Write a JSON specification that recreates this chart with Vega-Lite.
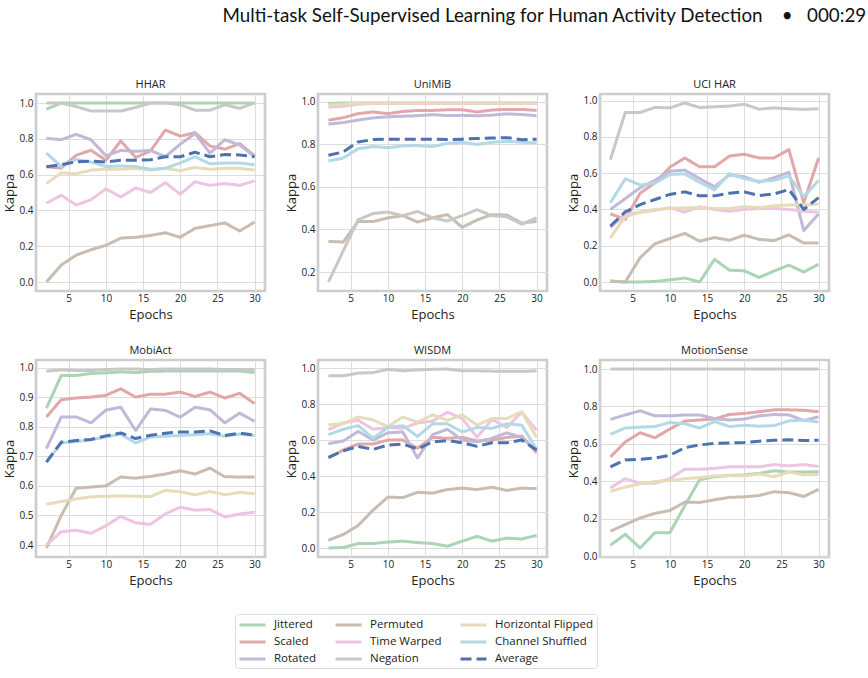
{
  "$schema": "https://vega.github.io/schema/vega-lite/v6.json",
  "padding": {"left": 2, "top": 6, "right": 0, "bottom": 0},
  "title": {
    "text": "Multi-task Self-Supervised Learning for Human Activity Detection\u00a0\u00a0\u00a0\u00a0•\u00a0\u00a0\u00a0000:29",
    "anchor": "start",
    "frame": "bounds",
    "font": "Lato",
    "fontSize": 18.8,
    "fontWeight": "normal",
    "color": "#111111",
    "offset": 52,
    "dx": 220
  },
  "data": {
    "values": [
      {"d":"HHAR","t":"Jittered","e":2,"k":0.965},{"d":"HHAR","t":"Jittered","e":4,"k":1},{"d":"HHAR","t":"Jittered","e":6,"k":1},{"d":"HHAR","t":"Jittered","e":8,"k":1},{"d":"HHAR","t":"Jittered","e":10,"k":1},{"d":"HHAR","t":"Jittered","e":12,"k":1},{"d":"HHAR","t":"Jittered","e":14,"k":1},{"d":"HHAR","t":"Jittered","e":16,"k":1},{"d":"HHAR","t":"Jittered","e":18,"k":1},{"d":"HHAR","t":"Jittered","e":20,"k":1},{"d":"HHAR","t":"Jittered","e":22,"k":1},{"d":"HHAR","t":"Jittered","e":24,"k":1},{"d":"HHAR","t":"Jittered","e":26,"k":1},{"d":"HHAR","t":"Jittered","e":28,"k":1},{"d":"HHAR","t":"Jittered","e":30,"k":1},
      {"d":"HHAR","t":"Scaled","e":2,"k":0.644},{"d":"HHAR","t":"Scaled","e":4,"k":0.636},{"d":"HHAR","t":"Scaled","e":6,"k":0.708},{"d":"HHAR","t":"Scaled","e":8,"k":0.736},{"d":"HHAR","t":"Scaled","e":10,"k":0.68},{"d":"HHAR","t":"Scaled","e":12,"k":0.788},{"d":"HHAR","t":"Scaled","e":14,"k":0.696},{"d":"HHAR","t":"Scaled","e":16,"k":0.732},{"d":"HHAR","t":"Scaled","e":18,"k":0.849},{"d":"HHAR","t":"Scaled","e":20,"k":0.815},{"d":"HHAR","t":"Scaled","e":22,"k":0.834},{"d":"HHAR","t":"Scaled","e":24,"k":0.76},{"d":"HHAR","t":"Scaled","e":26,"k":0.742},{"d":"HHAR","t":"Scaled","e":28,"k":0.773},{"d":"HHAR","t":"Scaled","e":30,"k":0.705},
      {"d":"HHAR","t":"Rotated","e":2,"k":0.803},{"d":"HHAR","t":"Rotated","e":4,"k":0.795},{"d":"HHAR","t":"Rotated","e":6,"k":0.825},{"d":"HHAR","t":"Rotated","e":8,"k":0.795},{"d":"HHAR","t":"Rotated","e":10,"k":0.705},{"d":"HHAR","t":"Rotated","e":12,"k":0.735},{"d":"HHAR","t":"Rotated","e":14,"k":0.73},{"d":"HHAR","t":"Rotated","e":16,"k":0.735},{"d":"HHAR","t":"Rotated","e":18,"k":0.7},{"d":"HHAR","t":"Rotated","e":20,"k":0.77},{"d":"HHAR","t":"Rotated","e":22,"k":0.83},{"d":"HHAR","t":"Rotated","e":24,"k":0.72},{"d":"HHAR","t":"Rotated","e":26,"k":0.795},{"d":"HHAR","t":"Rotated","e":28,"k":0.765},{"d":"HHAR","t":"Rotated","e":30,"k":0.7},
      {"d":"HHAR","t":"Permuted","e":2,"k":0},{"d":"HHAR","t":"Permuted","e":4,"k":0.095},{"d":"HHAR","t":"Permuted","e":6,"k":0.15},{"d":"HHAR","t":"Permuted","e":8,"k":0.18},{"d":"HHAR","t":"Permuted","e":10,"k":0.205},{"d":"HHAR","t":"Permuted","e":12,"k":0.245},{"d":"HHAR","t":"Permuted","e":14,"k":0.25},{"d":"HHAR","t":"Permuted","e":16,"k":0.26},{"d":"HHAR","t":"Permuted","e":18,"k":0.275},{"d":"HHAR","t":"Permuted","e":20,"k":0.25},{"d":"HHAR","t":"Permuted","e":22,"k":0.3},{"d":"HHAR","t":"Permuted","e":24,"k":0.315},{"d":"HHAR","t":"Permuted","e":26,"k":0.33},{"d":"HHAR","t":"Permuted","e":28,"k":0.285},{"d":"HHAR","t":"Permuted","e":30,"k":0.335},
      {"d":"HHAR","t":"Time Warped","e":2,"k":0.44},{"d":"HHAR","t":"Time Warped","e":4,"k":0.485},{"d":"HHAR","t":"Time Warped","e":6,"k":0.43},{"d":"HHAR","t":"Time Warped","e":8,"k":0.46},{"d":"HHAR","t":"Time Warped","e":10,"k":0.52},{"d":"HHAR","t":"Time Warped","e":12,"k":0.475},{"d":"HHAR","t":"Time Warped","e":14,"k":0.525},{"d":"HHAR","t":"Time Warped","e":16,"k":0.5},{"d":"HHAR","t":"Time Warped","e":18,"k":0.555},{"d":"HHAR","t":"Time Warped","e":20,"k":0.49},{"d":"HHAR","t":"Time Warped","e":22,"k":0.56},{"d":"HHAR","t":"Time Warped","e":24,"k":0.54},{"d":"HHAR","t":"Time Warped","e":26,"k":0.55},{"d":"HHAR","t":"Time Warped","e":28,"k":0.54},{"d":"HHAR","t":"Time Warped","e":30,"k":0.565},
      {"d":"HHAR","t":"Negation","e":2,"k":1},{"d":"HHAR","t":"Negation","e":4,"k":1},{"d":"HHAR","t":"Negation","e":6,"k":0.98},{"d":"HHAR","t":"Negation","e":8,"k":0.955},{"d":"HHAR","t":"Negation","e":10,"k":0.955},{"d":"HHAR","t":"Negation","e":12,"k":0.955},{"d":"HHAR","t":"Negation","e":14,"k":0.975},{"d":"HHAR","t":"Negation","e":16,"k":1},{"d":"HHAR","t":"Negation","e":18,"k":1},{"d":"HHAR","t":"Negation","e":20,"k":0.99},{"d":"HHAR","t":"Negation","e":22,"k":0.96},{"d":"HHAR","t":"Negation","e":24,"k":0.96},{"d":"HHAR","t":"Negation","e":26,"k":0.99},{"d":"HHAR","t":"Negation","e":28,"k":0.97},{"d":"HHAR","t":"Negation","e":30,"k":1},
      {"d":"HHAR","t":"Horizontal Flipped","e":2,"k":0.55},{"d":"HHAR","t":"Horizontal Flipped","e":4,"k":0.61},{"d":"HHAR","t":"Horizontal Flipped","e":6,"k":0.605},{"d":"HHAR","t":"Horizontal Flipped","e":8,"k":0.625},{"d":"HHAR","t":"Horizontal Flipped","e":10,"k":0.63},{"d":"HHAR","t":"Horizontal Flipped","e":12,"k":0.63},{"d":"HHAR","t":"Horizontal Flipped","e":14,"k":0.635},{"d":"HHAR","t":"Horizontal Flipped","e":16,"k":0.625},{"d":"HHAR","t":"Horizontal Flipped","e":18,"k":0.635},{"d":"HHAR","t":"Horizontal Flipped","e":20,"k":0.622},{"d":"HHAR","t":"Horizontal Flipped","e":22,"k":0.64},{"d":"HHAR","t":"Horizontal Flipped","e":24,"k":0.63},{"d":"HHAR","t":"Horizontal Flipped","e":26,"k":0.635},{"d":"HHAR","t":"Horizontal Flipped","e":28,"k":0.635},{"d":"HHAR","t":"Horizontal Flipped","e":30,"k":0.625},
      {"d":"HHAR","t":"Channel Shuffled","e":2,"k":0.72},{"d":"HHAR","t":"Channel Shuffled","e":4,"k":0.645},{"d":"HHAR","t":"Channel Shuffled","e":6,"k":0.685},{"d":"HHAR","t":"Channel Shuffled","e":8,"k":0.67},{"d":"HHAR","t":"Channel Shuffled","e":10,"k":0.645},{"d":"HHAR","t":"Channel Shuffled","e":12,"k":0.648},{"d":"HHAR","t":"Channel Shuffled","e":14,"k":0.645},{"d":"HHAR","t":"Channel Shuffled","e":16,"k":0.63},{"d":"HHAR","t":"Channel Shuffled","e":18,"k":0.635},{"d":"HHAR","t":"Channel Shuffled","e":20,"k":0.665},{"d":"HHAR","t":"Channel Shuffled","e":22,"k":0.7},{"d":"HHAR","t":"Channel Shuffled","e":24,"k":0.66},{"d":"HHAR","t":"Channel Shuffled","e":26,"k":0.665},{"d":"HHAR","t":"Channel Shuffled","e":28,"k":0.665},{"d":"HHAR","t":"Channel Shuffled","e":30,"k":0.655},
      {"d":"HHAR","t":"Average","e":2,"k":0.644},{"d":"HHAR","t":"Average","e":4,"k":0.655},{"d":"HHAR","t":"Average","e":6,"k":0.672},{"d":"HHAR","t":"Average","e":8,"k":0.675},{"d":"HHAR","t":"Average","e":10,"k":0.67},{"d":"HHAR","t":"Average","e":12,"k":0.68},{"d":"HHAR","t":"Average","e":14,"k":0.68},{"d":"HHAR","t":"Average","e":16,"k":0.683},{"d":"HHAR","t":"Average","e":18,"k":0.7},{"d":"HHAR","t":"Average","e":20,"k":0.7},{"d":"HHAR","t":"Average","e":22,"k":0.725},{"d":"HHAR","t":"Average","e":24,"k":0.7},{"d":"HHAR","t":"Average","e":26,"k":0.712},{"d":"HHAR","t":"Average","e":28,"k":0.71},{"d":"HHAR","t":"Average","e":30,"k":0.7},

      {"d":"UniMiB","t":"Jittered","e":2,"k":0.993},{"d":"UniMiB","t":"Jittered","e":4,"k":0.995},{"d":"UniMiB","t":"Jittered","e":6,"k":0.995},{"d":"UniMiB","t":"Jittered","e":8,"k":0.995},{"d":"UniMiB","t":"Jittered","e":10,"k":0.995},{"d":"UniMiB","t":"Jittered","e":12,"k":0.995},{"d":"UniMiB","t":"Jittered","e":14,"k":0.995},{"d":"UniMiB","t":"Jittered","e":16,"k":0.995},{"d":"UniMiB","t":"Jittered","e":18,"k":0.995},{"d":"UniMiB","t":"Jittered","e":20,"k":0.995},{"d":"UniMiB","t":"Jittered","e":22,"k":0.995},{"d":"UniMiB","t":"Jittered","e":24,"k":0.995},{"d":"UniMiB","t":"Jittered","e":26,"k":0.995},{"d":"UniMiB","t":"Jittered","e":28,"k":0.995},{"d":"UniMiB","t":"Jittered","e":30,"k":0.995},
      {"d":"UniMiB","t":"Scaled","e":2,"k":0.914},{"d":"UniMiB","t":"Scaled","e":4,"k":0.926},{"d":"UniMiB","t":"Scaled","e":6,"k":0.945},{"d":"UniMiB","t":"Scaled","e":8,"k":0.953},{"d":"UniMiB","t":"Scaled","e":10,"k":0.945},{"d":"UniMiB","t":"Scaled","e":12,"k":0.955},{"d":"UniMiB","t":"Scaled","e":14,"k":0.96},{"d":"UniMiB","t":"Scaled","e":16,"k":0.96},{"d":"UniMiB","t":"Scaled","e":18,"k":0.963},{"d":"UniMiB","t":"Scaled","e":20,"k":0.963},{"d":"UniMiB","t":"Scaled","e":22,"k":0.953},{"d":"UniMiB","t":"Scaled","e":24,"k":0.962},{"d":"UniMiB","t":"Scaled","e":26,"k":0.965},{"d":"UniMiB","t":"Scaled","e":28,"k":0.965},{"d":"UniMiB","t":"Scaled","e":30,"k":0.96},
      {"d":"UniMiB","t":"Rotated","e":2,"k":0.896},{"d":"UniMiB","t":"Rotated","e":4,"k":0.903},{"d":"UniMiB","t":"Rotated","e":6,"k":0.915},{"d":"UniMiB","t":"Rotated","e":8,"k":0.925},{"d":"UniMiB","t":"Rotated","e":10,"k":0.93},{"d":"UniMiB","t":"Rotated","e":12,"k":0.933},{"d":"UniMiB","t":"Rotated","e":14,"k":0.935},{"d":"UniMiB","t":"Rotated","e":16,"k":0.94},{"d":"UniMiB","t":"Rotated","e":18,"k":0.936},{"d":"UniMiB","t":"Rotated","e":20,"k":0.937},{"d":"UniMiB","t":"Rotated","e":22,"k":0.935},{"d":"UniMiB","t":"Rotated","e":24,"k":0.938},{"d":"UniMiB","t":"Rotated","e":26,"k":0.944},{"d":"UniMiB","t":"Rotated","e":28,"k":0.941},{"d":"UniMiB","t":"Rotated","e":30,"k":0.935},
      {"d":"UniMiB","t":"Permuted","e":2,"k":0.344},{"d":"UniMiB","t":"Permuted","e":4,"k":0.341},{"d":"UniMiB","t":"Permuted","e":6,"k":0.438},{"d":"UniMiB","t":"Permuted","e":8,"k":0.437},{"d":"UniMiB","t":"Permuted","e":10,"k":0.455},{"d":"UniMiB","t":"Permuted","e":12,"k":0.465},{"d":"UniMiB","t":"Permuted","e":14,"k":0.435},{"d":"UniMiB","t":"Permuted","e":16,"k":0.455},{"d":"UniMiB","t":"Permuted","e":18,"k":0.47},{"d":"UniMiB","t":"Permuted","e":20,"k":0.41},{"d":"UniMiB","t":"Permuted","e":22,"k":0.445},{"d":"UniMiB","t":"Permuted","e":24,"k":0.47},{"d":"UniMiB","t":"Permuted","e":26,"k":0.468},{"d":"UniMiB","t":"Permuted","e":28,"k":0.43},{"d":"UniMiB","t":"Permuted","e":30,"k":0.438},
      {"d":"UniMiB","t":"Time Warped","e":2,"k":0.976},{"d":"UniMiB","t":"Time Warped","e":4,"k":0.98},{"d":"UniMiB","t":"Time Warped","e":6,"k":0.99},{"d":"UniMiB","t":"Time Warped","e":8,"k":0.993},{"d":"UniMiB","t":"Time Warped","e":10,"k":0.993},{"d":"UniMiB","t":"Time Warped","e":12,"k":0.993},{"d":"UniMiB","t":"Time Warped","e":14,"k":0.993},{"d":"UniMiB","t":"Time Warped","e":16,"k":0.993},{"d":"UniMiB","t":"Time Warped","e":18,"k":0.993},{"d":"UniMiB","t":"Time Warped","e":20,"k":0.993},{"d":"UniMiB","t":"Time Warped","e":22,"k":0.993},{"d":"UniMiB","t":"Time Warped","e":24,"k":0.993},{"d":"UniMiB","t":"Time Warped","e":26,"k":0.993},{"d":"UniMiB","t":"Time Warped","e":28,"k":0.993},{"d":"UniMiB","t":"Time Warped","e":30,"k":0.993},
      {"d":"UniMiB","t":"Negation","e":2,"k":0.153},{"d":"UniMiB","t":"Negation","e":4,"k":0.3},{"d":"UniMiB","t":"Negation","e":6,"k":0.446},{"d":"UniMiB","t":"Negation","e":8,"k":0.475},{"d":"UniMiB","t":"Negation","e":10,"k":0.482},{"d":"UniMiB","t":"Negation","e":12,"k":0.465},{"d":"UniMiB","t":"Negation","e":14,"k":0.485},{"d":"UniMiB","t":"Negation","e":16,"k":0.455},{"d":"UniMiB","t":"Negation","e":18,"k":0.44},{"d":"UniMiB","t":"Negation","e":20,"k":0.465},{"d":"UniMiB","t":"Negation","e":22,"k":0.493},{"d":"UniMiB","t":"Negation","e":24,"k":0.465},{"d":"UniMiB","t":"Negation","e":26,"k":0.46},{"d":"UniMiB","t":"Negation","e":28,"k":0.425},{"d":"UniMiB","t":"Negation","e":30,"k":0.455},
      {"d":"UniMiB","t":"Horizontal Flipped","e":2,"k":0.985},{"d":"UniMiB","t":"Horizontal Flipped","e":4,"k":0.99},{"d":"UniMiB","t":"Horizontal Flipped","e":6,"k":0.995},{"d":"UniMiB","t":"Horizontal Flipped","e":8,"k":0.995},{"d":"UniMiB","t":"Horizontal Flipped","e":10,"k":0.995},{"d":"UniMiB","t":"Horizontal Flipped","e":12,"k":0.995},{"d":"UniMiB","t":"Horizontal Flipped","e":14,"k":0.995},{"d":"UniMiB","t":"Horizontal Flipped","e":16,"k":0.995},{"d":"UniMiB","t":"Horizontal Flipped","e":18,"k":0.995},{"d":"UniMiB","t":"Horizontal Flipped","e":20,"k":0.995},{"d":"UniMiB","t":"Horizontal Flipped","e":22,"k":0.995},{"d":"UniMiB","t":"Horizontal Flipped","e":24,"k":0.995},{"d":"UniMiB","t":"Horizontal Flipped","e":26,"k":0.995},{"d":"UniMiB","t":"Horizontal Flipped","e":28,"k":0.995},{"d":"UniMiB","t":"Horizontal Flipped","e":30,"k":0.995},
      {"d":"UniMiB","t":"Channel Shuffled","e":2,"k":0.722},{"d":"UniMiB","t":"Channel Shuffled","e":4,"k":0.736},{"d":"UniMiB","t":"Channel Shuffled","e":6,"k":0.78},{"d":"UniMiB","t":"Channel Shuffled","e":8,"k":0.79},{"d":"UniMiB","t":"Channel Shuffled","e":10,"k":0.785},{"d":"UniMiB","t":"Channel Shuffled","e":12,"k":0.793},{"d":"UniMiB","t":"Channel Shuffled","e":14,"k":0.795},{"d":"UniMiB","t":"Channel Shuffled","e":16,"k":0.79},{"d":"UniMiB","t":"Channel Shuffled","e":18,"k":0.805},{"d":"UniMiB","t":"Channel Shuffled","e":20,"k":0.81},{"d":"UniMiB","t":"Channel Shuffled","e":22,"k":0.8},{"d":"UniMiB","t":"Channel Shuffled","e":24,"k":0.81},{"d":"UniMiB","t":"Channel Shuffled","e":26,"k":0.815},{"d":"UniMiB","t":"Channel Shuffled","e":28,"k":0.81},{"d":"UniMiB","t":"Channel Shuffled","e":30,"k":0.808},
      {"d":"UniMiB","t":"Average","e":2,"k":0.749},{"d":"UniMiB","t":"Average","e":4,"k":0.765},{"d":"UniMiB","t":"Average","e":6,"k":0.812},{"d":"UniMiB","t":"Average","e":8,"k":0.823},{"d":"UniMiB","t":"Average","e":10,"k":0.825},{"d":"UniMiB","t":"Average","e":12,"k":0.825},{"d":"UniMiB","t":"Average","e":14,"k":0.825},{"d":"UniMiB","t":"Average","e":16,"k":0.825},{"d":"UniMiB","t":"Average","e":18,"k":0.823},{"d":"UniMiB","t":"Average","e":20,"k":0.825},{"d":"UniMiB","t":"Average","e":22,"k":0.828},{"d":"UniMiB","t":"Average","e":24,"k":0.83},{"d":"UniMiB","t":"Average","e":26,"k":0.832},{"d":"UniMiB","t":"Average","e":28,"k":0.822},{"d":"UniMiB","t":"Average","e":30,"k":0.825},

      {"d":"UCI HAR","t":"Jittered","e":2,"k":0.005},{"d":"UCI HAR","t":"Jittered","e":4,"k":0},{"d":"UCI HAR","t":"Jittered","e":6,"k":0},{"d":"UCI HAR","t":"Jittered","e":8,"k":0.003},{"d":"UCI HAR","t":"Jittered","e":10,"k":0.012},{"d":"UCI HAR","t":"Jittered","e":12,"k":0.022},{"d":"UCI HAR","t":"Jittered","e":14,"k":0},{"d":"UCI HAR","t":"Jittered","e":16,"k":0.125},{"d":"UCI HAR","t":"Jittered","e":18,"k":0.065},{"d":"UCI HAR","t":"Jittered","e":20,"k":0.062},{"d":"UCI HAR","t":"Jittered","e":22,"k":0.025},{"d":"UCI HAR","t":"Jittered","e":24,"k":0.06},{"d":"UCI HAR","t":"Jittered","e":26,"k":0.093},{"d":"UCI HAR","t":"Jittered","e":28,"k":0.055},{"d":"UCI HAR","t":"Jittered","e":30,"k":0.098},
      {"d":"UCI HAR","t":"Scaled","e":2,"k":0.376},{"d":"UCI HAR","t":"Scaled","e":4,"k":0.345},{"d":"UCI HAR","t":"Scaled","e":6,"k":0.49},{"d":"UCI HAR","t":"Scaled","e":8,"k":0.547},{"d":"UCI HAR","t":"Scaled","e":10,"k":0.633},{"d":"UCI HAR","t":"Scaled","e":12,"k":0.684},{"d":"UCI HAR","t":"Scaled","e":14,"k":0.635},{"d":"UCI HAR","t":"Scaled","e":16,"k":0.635},{"d":"UCI HAR","t":"Scaled","e":18,"k":0.694},{"d":"UCI HAR","t":"Scaled","e":20,"k":0.705},{"d":"UCI HAR","t":"Scaled","e":22,"k":0.684},{"d":"UCI HAR","t":"Scaled","e":24,"k":0.684},{"d":"UCI HAR","t":"Scaled","e":26,"k":0.73},{"d":"UCI HAR","t":"Scaled","e":28,"k":0.437},{"d":"UCI HAR","t":"Scaled","e":30,"k":0.684},
      {"d":"UCI HAR","t":"Rotated","e":2,"k":0.4},{"d":"UCI HAR","t":"Rotated","e":4,"k":0.46},{"d":"UCI HAR","t":"Rotated","e":6,"k":0.52},{"d":"UCI HAR","t":"Rotated","e":8,"k":0.56},{"d":"UCI HAR","t":"Rotated","e":10,"k":0.611},{"d":"UCI HAR","t":"Rotated","e":12,"k":0.617},{"d":"UCI HAR","t":"Rotated","e":14,"k":0.57},{"d":"UCI HAR","t":"Rotated","e":16,"k":0.525},{"d":"UCI HAR","t":"Rotated","e":18,"k":0.59},{"d":"UCI HAR","t":"Rotated","e":20,"k":0.58},{"d":"UCI HAR","t":"Rotated","e":22,"k":0.55},{"d":"UCI HAR","t":"Rotated","e":24,"k":0.575},{"d":"UCI HAR","t":"Rotated","e":26,"k":0.605},{"d":"UCI HAR","t":"Rotated","e":28,"k":0.284},{"d":"UCI HAR","t":"Rotated","e":30,"k":0.376},
      {"d":"UCI HAR","t":"Permuted","e":2,"k":0.005},{"d":"UCI HAR","t":"Permuted","e":4,"k":0},{"d":"UCI HAR","t":"Permuted","e":6,"k":0.134},{"d":"UCI HAR","t":"Permuted","e":8,"k":0.211},{"d":"UCI HAR","t":"Permuted","e":10,"k":0.24},{"d":"UCI HAR","t":"Permuted","e":12,"k":0.268},{"d":"UCI HAR","t":"Permuted","e":14,"k":0.225},{"d":"UCI HAR","t":"Permuted","e":16,"k":0.245},{"d":"UCI HAR","t":"Permuted","e":18,"k":0.23},{"d":"UCI HAR","t":"Permuted","e":20,"k":0.258},{"d":"UCI HAR","t":"Permuted","e":22,"k":0.235},{"d":"UCI HAR","t":"Permuted","e":24,"k":0.228},{"d":"UCI HAR","t":"Permuted","e":26,"k":0.26},{"d":"UCI HAR","t":"Permuted","e":28,"k":0.215},{"d":"UCI HAR","t":"Permuted","e":30,"k":0.215},
      {"d":"UCI HAR","t":"Time Warped","e":2,"k":0.3},{"d":"UCI HAR","t":"Time Warped","e":4,"k":0.37},{"d":"UCI HAR","t":"Time Warped","e":6,"k":0.385},{"d":"UCI HAR","t":"Time Warped","e":8,"k":0.395},{"d":"UCI HAR","t":"Time Warped","e":10,"k":0.41},{"d":"UCI HAR","t":"Time Warped","e":12,"k":0.385},{"d":"UCI HAR","t":"Time Warped","e":14,"k":0.415},{"d":"UCI HAR","t":"Time Warped","e":16,"k":0.4},{"d":"UCI HAR","t":"Time Warped","e":18,"k":0.39},{"d":"UCI HAR","t":"Time Warped","e":20,"k":0.4},{"d":"UCI HAR","t":"Time Warped","e":22,"k":0.405},{"d":"UCI HAR","t":"Time Warped","e":24,"k":0.405},{"d":"UCI HAR","t":"Time Warped","e":26,"k":0.4},{"d":"UCI HAR","t":"Time Warped","e":28,"k":0.39},{"d":"UCI HAR","t":"Time Warped","e":30,"k":0.385},
      {"d":"UCI HAR","t":"Negation","e":2,"k":0.675},{"d":"UCI HAR","t":"Negation","e":4,"k":0.935},{"d":"UCI HAR","t":"Negation","e":6,"k":0.935},{"d":"UCI HAR","t":"Negation","e":8,"k":0.963},{"d":"UCI HAR","t":"Negation","e":10,"k":0.96},{"d":"UCI HAR","t":"Negation","e":12,"k":0.987},{"d":"UCI HAR","t":"Negation","e":14,"k":0.962},{"d":"UCI HAR","t":"Negation","e":16,"k":0.966},{"d":"UCI HAR","t":"Negation","e":18,"k":0.97},{"d":"UCI HAR","t":"Negation","e":20,"k":0.98},{"d":"UCI HAR","t":"Negation","e":22,"k":0.953},{"d":"UCI HAR","t":"Negation","e":24,"k":0.96},{"d":"UCI HAR","t":"Negation","e":26,"k":0.955},{"d":"UCI HAR","t":"Negation","e":28,"k":0.952},{"d":"UCI HAR","t":"Negation","e":30,"k":0.955},
      {"d":"UCI HAR","t":"Horizontal Flipped","e":2,"k":0.244},{"d":"UCI HAR","t":"Horizontal Flipped","e":4,"k":0.36},{"d":"UCI HAR","t":"Horizontal Flipped","e":6,"k":0.385},{"d":"UCI HAR","t":"Horizontal Flipped","e":8,"k":0.4},{"d":"UCI HAR","t":"Horizontal Flipped","e":10,"k":0.405},{"d":"UCI HAR","t":"Horizontal Flipped","e":12,"k":0.41},{"d":"UCI HAR","t":"Horizontal Flipped","e":14,"k":0.41},{"d":"UCI HAR","t":"Horizontal Flipped","e":16,"k":0.405},{"d":"UCI HAR","t":"Horizontal Flipped","e":18,"k":0.405},{"d":"UCI HAR","t":"Horizontal Flipped","e":20,"k":0.415},{"d":"UCI HAR","t":"Horizontal Flipped","e":22,"k":0.41},{"d":"UCI HAR","t":"Horizontal Flipped","e":24,"k":0.42},{"d":"UCI HAR","t":"Horizontal Flipped","e":26,"k":0.425},{"d":"UCI HAR","t":"Horizontal Flipped","e":28,"k":0.425},{"d":"UCI HAR","t":"Horizontal Flipped","e":30,"k":0.43},
      {"d":"UCI HAR","t":"Channel Shuffled","e":2,"k":0.437},{"d":"UCI HAR","t":"Channel Shuffled","e":4,"k":0.569},{"d":"UCI HAR","t":"Channel Shuffled","e":6,"k":0.535},{"d":"UCI HAR","t":"Channel Shuffled","e":8,"k":0.545},{"d":"UCI HAR","t":"Channel Shuffled","e":10,"k":0.593},{"d":"UCI HAR","t":"Channel Shuffled","e":12,"k":0.596},{"d":"UCI HAR","t":"Channel Shuffled","e":14,"k":0.55},{"d":"UCI HAR","t":"Channel Shuffled","e":16,"k":0.508},{"d":"UCI HAR","t":"Channel Shuffled","e":18,"k":0.598},{"d":"UCI HAR","t":"Channel Shuffled","e":20,"k":0.57},{"d":"UCI HAR","t":"Channel Shuffled","e":22,"k":0.555},{"d":"UCI HAR","t":"Channel Shuffled","e":24,"k":0.56},{"d":"UCI HAR","t":"Channel Shuffled","e":26,"k":0.585},{"d":"UCI HAR","t":"Channel Shuffled","e":28,"k":0.47},{"d":"UCI HAR","t":"Channel Shuffled","e":30,"k":0.56},
      {"d":"UCI HAR","t":"Average","e":2,"k":0.308},{"d":"UCI HAR","t":"Average","e":4,"k":0.387},{"d":"UCI HAR","t":"Average","e":6,"k":0.427},{"d":"UCI HAR","t":"Average","e":8,"k":0.455},{"d":"UCI HAR","t":"Average","e":10,"k":0.483},{"d":"UCI HAR","t":"Average","e":12,"k":0.497},{"d":"UCI HAR","t":"Average","e":14,"k":0.475},{"d":"UCI HAR","t":"Average","e":16,"k":0.475},{"d":"UCI HAR","t":"Average","e":18,"k":0.49},{"d":"UCI HAR","t":"Average","e":20,"k":0.497},{"d":"UCI HAR","t":"Average","e":22,"k":0.477},{"d":"UCI HAR","t":"Average","e":24,"k":0.485},{"d":"UCI HAR","t":"Average","e":26,"k":0.51},{"d":"UCI HAR","t":"Average","e":28,"k":0.4},{"d":"UCI HAR","t":"Average","e":30,"k":0.465},

      {"d":"MobiAct","t":"Jittered","e":2,"k":0.863},{"d":"MobiAct","t":"Jittered","e":4,"k":0.973},{"d":"MobiAct","t":"Jittered","e":6,"k":0.973},{"d":"MobiAct","t":"Jittered","e":8,"k":0.98},{"d":"MobiAct","t":"Jittered","e":10,"k":0.982},{"d":"MobiAct","t":"Jittered","e":12,"k":0.985},{"d":"MobiAct","t":"Jittered","e":14,"k":0.983},{"d":"MobiAct","t":"Jittered","e":16,"k":0.987},{"d":"MobiAct","t":"Jittered","e":18,"k":0.988},{"d":"MobiAct","t":"Jittered","e":20,"k":0.988},{"d":"MobiAct","t":"Jittered","e":22,"k":0.988},{"d":"MobiAct","t":"Jittered","e":24,"k":0.988},{"d":"MobiAct","t":"Jittered","e":26,"k":0.988},{"d":"MobiAct","t":"Jittered","e":28,"k":0.988},{"d":"MobiAct","t":"Jittered","e":30,"k":0.983},
      {"d":"MobiAct","t":"Scaled","e":2,"k":0.833},{"d":"MobiAct","t":"Scaled","e":4,"k":0.891},{"d":"MobiAct","t":"Scaled","e":6,"k":0.897},{"d":"MobiAct","t":"Scaled","e":8,"k":0.9},{"d":"MobiAct","t":"Scaled","e":10,"k":0.906},{"d":"MobiAct","t":"Scaled","e":12,"k":0.928},{"d":"MobiAct","t":"Scaled","e":14,"k":0.9},{"d":"MobiAct","t":"Scaled","e":16,"k":0.91},{"d":"MobiAct","t":"Scaled","e":18,"k":0.91},{"d":"MobiAct","t":"Scaled","e":20,"k":0.917},{"d":"MobiAct","t":"Scaled","e":22,"k":0.902},{"d":"MobiAct","t":"Scaled","e":24,"k":0.917},{"d":"MobiAct","t":"Scaled","e":26,"k":0.897},{"d":"MobiAct","t":"Scaled","e":28,"k":0.913},{"d":"MobiAct","t":"Scaled","e":30,"k":0.878},
      {"d":"MobiAct","t":"Rotated","e":2,"k":0.726},{"d":"MobiAct","t":"Rotated","e":4,"k":0.833},{"d":"MobiAct","t":"Rotated","e":6,"k":0.833},{"d":"MobiAct","t":"Rotated","e":8,"k":0.813},{"d":"MobiAct","t":"Rotated","e":10,"k":0.856},{"d":"MobiAct","t":"Rotated","e":12,"k":0.866},{"d":"MobiAct","t":"Rotated","e":14,"k":0.787},{"d":"MobiAct","t":"Rotated","e":16,"k":0.86},{"d":"MobiAct","t":"Rotated","e":18,"k":0.855},{"d":"MobiAct","t":"Rotated","e":20,"k":0.832},{"d":"MobiAct","t":"Rotated","e":22,"k":0.866},{"d":"MobiAct","t":"Rotated","e":24,"k":0.857},{"d":"MobiAct","t":"Rotated","e":26,"k":0.813},{"d":"MobiAct","t":"Rotated","e":28,"k":0.846},{"d":"MobiAct","t":"Rotated","e":30,"k":0.818},
      {"d":"MobiAct","t":"Permuted","e":2,"k":0.39},{"d":"MobiAct","t":"Permuted","e":4,"k":0.5},{"d":"MobiAct","t":"Permuted","e":6,"k":0.592},{"d":"MobiAct","t":"Permuted","e":8,"k":0.596},{"d":"MobiAct","t":"Permuted","e":10,"k":0.6},{"d":"MobiAct","t":"Permuted","e":12,"k":0.63},{"d":"MobiAct","t":"Permuted","e":14,"k":0.626},{"d":"MobiAct","t":"Permuted","e":16,"k":0.632},{"d":"MobiAct","t":"Permuted","e":18,"k":0.64},{"d":"MobiAct","t":"Permuted","e":20,"k":0.651},{"d":"MobiAct","t":"Permuted","e":22,"k":0.64},{"d":"MobiAct","t":"Permuted","e":24,"k":0.66},{"d":"MobiAct","t":"Permuted","e":26,"k":0.631},{"d":"MobiAct","t":"Permuted","e":28,"k":0.63},{"d":"MobiAct","t":"Permuted","e":30,"k":0.63},
      {"d":"MobiAct","t":"Time Warped","e":2,"k":0.4},{"d":"MobiAct","t":"Time Warped","e":4,"k":0.445},{"d":"MobiAct","t":"Time Warped","e":6,"k":0.45},{"d":"MobiAct","t":"Time Warped","e":8,"k":0.44},{"d":"MobiAct","t":"Time Warped","e":10,"k":0.465},{"d":"MobiAct","t":"Time Warped","e":12,"k":0.497},{"d":"MobiAct","t":"Time Warped","e":14,"k":0.475},{"d":"MobiAct","t":"Time Warped","e":16,"k":0.47},{"d":"MobiAct","t":"Time Warped","e":18,"k":0.505},{"d":"MobiAct","t":"Time Warped","e":20,"k":0.528},{"d":"MobiAct","t":"Time Warped","e":22,"k":0.518},{"d":"MobiAct","t":"Time Warped","e":24,"k":0.52},{"d":"MobiAct","t":"Time Warped","e":26,"k":0.495},{"d":"MobiAct","t":"Time Warped","e":28,"k":0.505},{"d":"MobiAct","t":"Time Warped","e":30,"k":0.511},
      {"d":"MobiAct","t":"Negation","e":2,"k":0.988},{"d":"MobiAct","t":"Negation","e":4,"k":0.992},{"d":"MobiAct","t":"Negation","e":6,"k":0.99},{"d":"MobiAct","t":"Negation","e":8,"k":0.99},{"d":"MobiAct","t":"Negation","e":10,"k":0.993},{"d":"MobiAct","t":"Negation","e":12,"k":0.995},{"d":"MobiAct","t":"Negation","e":14,"k":0.995},{"d":"MobiAct","t":"Negation","e":16,"k":0.993},{"d":"MobiAct","t":"Negation","e":18,"k":0.995},{"d":"MobiAct","t":"Negation","e":20,"k":0.995},{"d":"MobiAct","t":"Negation","e":22,"k":0.995},{"d":"MobiAct","t":"Negation","e":24,"k":0.995},{"d":"MobiAct","t":"Negation","e":26,"k":0.993},{"d":"MobiAct","t":"Negation","e":28,"k":0.993},{"d":"MobiAct","t":"Negation","e":30,"k":0.993},
      {"d":"MobiAct","t":"Horizontal Flipped","e":2,"k":0.538},{"d":"MobiAct","t":"Horizontal Flipped","e":4,"k":0.547},{"d":"MobiAct","t":"Horizontal Flipped","e":6,"k":0.556},{"d":"MobiAct","t":"Horizontal Flipped","e":8,"k":0.563},{"d":"MobiAct","t":"Horizontal Flipped","e":10,"k":0.565},{"d":"MobiAct","t":"Horizontal Flipped","e":12,"k":0.566},{"d":"MobiAct","t":"Horizontal Flipped","e":14,"k":0.565},{"d":"MobiAct","t":"Horizontal Flipped","e":16,"k":0.564},{"d":"MobiAct","t":"Horizontal Flipped","e":18,"k":0.585},{"d":"MobiAct","t":"Horizontal Flipped","e":20,"k":0.58},{"d":"MobiAct","t":"Horizontal Flipped","e":22,"k":0.57},{"d":"MobiAct","t":"Horizontal Flipped","e":24,"k":0.581},{"d":"MobiAct","t":"Horizontal Flipped","e":26,"k":0.57},{"d":"MobiAct","t":"Horizontal Flipped","e":28,"k":0.578},{"d":"MobiAct","t":"Horizontal Flipped","e":30,"k":0.573},
      {"d":"MobiAct","t":"Channel Shuffled","e":2,"k":0.68},{"d":"MobiAct","t":"Channel Shuffled","e":4,"k":0.745},{"d":"MobiAct","t":"Channel Shuffled","e":6,"k":0.75},{"d":"MobiAct","t":"Channel Shuffled","e":8,"k":0.756},{"d":"MobiAct","t":"Channel Shuffled","e":10,"k":0.765},{"d":"MobiAct","t":"Channel Shuffled","e":12,"k":0.775},{"d":"MobiAct","t":"Channel Shuffled","e":14,"k":0.745},{"d":"MobiAct","t":"Channel Shuffled","e":16,"k":0.765},{"d":"MobiAct","t":"Channel Shuffled","e":18,"k":0.768},{"d":"MobiAct","t":"Channel Shuffled","e":20,"k":0.77},{"d":"MobiAct","t":"Channel Shuffled","e":22,"k":0.773},{"d":"MobiAct","t":"Channel Shuffled","e":24,"k":0.776},{"d":"MobiAct","t":"Channel Shuffled","e":26,"k":0.768},{"d":"MobiAct","t":"Channel Shuffled","e":28,"k":0.775},{"d":"MobiAct","t":"Channel Shuffled","e":30,"k":0.77},
      {"d":"MobiAct","t":"Average","e":2,"k":0.68},{"d":"MobiAct","t":"Average","e":4,"k":0.748},{"d":"MobiAct","t":"Average","e":6,"k":0.753},{"d":"MobiAct","t":"Average","e":8,"k":0.757},{"d":"MobiAct","t":"Average","e":10,"k":0.769},{"d":"MobiAct","t":"Average","e":12,"k":0.779},{"d":"MobiAct","t":"Average","e":14,"k":0.76},{"d":"MobiAct","t":"Average","e":16,"k":0.771},{"d":"MobiAct","t":"Average","e":18,"k":0.778},{"d":"MobiAct","t":"Average","e":20,"k":0.782},{"d":"MobiAct","t":"Average","e":22,"k":0.782},{"d":"MobiAct","t":"Average","e":24,"k":0.786},{"d":"MobiAct","t":"Average","e":26,"k":0.77},{"d":"MobiAct","t":"Average","e":28,"k":0.778},{"d":"MobiAct","t":"Average","e":30,"k":0.772},

      {"d":"WISDM","t":"Jittered","e":2,"k":0},{"d":"WISDM","t":"Jittered","e":4,"k":0.003},{"d":"WISDM","t":"Jittered","e":6,"k":0.025},{"d":"WISDM","t":"Jittered","e":8,"k":0.025},{"d":"WISDM","t":"Jittered","e":10,"k":0.033},{"d":"WISDM","t":"Jittered","e":12,"k":0.038},{"d":"WISDM","t":"Jittered","e":14,"k":0.03},{"d":"WISDM","t":"Jittered","e":16,"k":0.025},{"d":"WISDM","t":"Jittered","e":18,"k":0.01},{"d":"WISDM","t":"Jittered","e":20,"k":0.038},{"d":"WISDM","t":"Jittered","e":22,"k":0.065},{"d":"WISDM","t":"Jittered","e":24,"k":0.038},{"d":"WISDM","t":"Jittered","e":26,"k":0.055},{"d":"WISDM","t":"Jittered","e":28,"k":0.05},{"d":"WISDM","t":"Jittered","e":30,"k":0.07},
      {"d":"WISDM","t":"Scaled","e":2,"k":0.5},{"d":"WISDM","t":"Scaled","e":4,"k":0.545},{"d":"WISDM","t":"Scaled","e":6,"k":0.578},{"d":"WISDM","t":"Scaled","e":8,"k":0.578},{"d":"WISDM","t":"Scaled","e":10,"k":0.6},{"d":"WISDM","t":"Scaled","e":12,"k":0.6},{"d":"WISDM","t":"Scaled","e":14,"k":0.555},{"d":"WISDM","t":"Scaled","e":16,"k":0.615},{"d":"WISDM","t":"Scaled","e":18,"k":0.61},{"d":"WISDM","t":"Scaled","e":20,"k":0.615},{"d":"WISDM","t":"Scaled","e":22,"k":0.595},{"d":"WISDM","t":"Scaled","e":24,"k":0.6},{"d":"WISDM","t":"Scaled","e":26,"k":0.615},{"d":"WISDM","t":"Scaled","e":28,"k":0.622},{"d":"WISDM","t":"Scaled","e":30,"k":0.53},
      {"d":"WISDM","t":"Rotated","e":2,"k":0.58},{"d":"WISDM","t":"Rotated","e":4,"k":0.595},{"d":"WISDM","t":"Rotated","e":6,"k":0.648},{"d":"WISDM","t":"Rotated","e":8,"k":0.6},{"d":"WISDM","t":"Rotated","e":10,"k":0.64},{"d":"WISDM","t":"Rotated","e":12,"k":0.645},{"d":"WISDM","t":"Rotated","e":14,"k":0.5},{"d":"WISDM","t":"Rotated","e":16,"k":0.63},{"d":"WISDM","t":"Rotated","e":18,"k":0.66},{"d":"WISDM","t":"Rotated","e":20,"k":0.6},{"d":"WISDM","t":"Rotated","e":22,"k":0.59},{"d":"WISDM","t":"Rotated","e":24,"k":0.61},{"d":"WISDM","t":"Rotated","e":26,"k":0.64},{"d":"WISDM","t":"Rotated","e":28,"k":0.615},{"d":"WISDM","t":"Rotated","e":30,"k":0.54},
      {"d":"WISDM","t":"Permuted","e":2,"k":0.043},{"d":"WISDM","t":"Permuted","e":4,"k":0.075},{"d":"WISDM","t":"Permuted","e":6,"k":0.125},{"d":"WISDM","t":"Permuted","e":8,"k":0.21},{"d":"WISDM","t":"Permuted","e":10,"k":0.283},{"d":"WISDM","t":"Permuted","e":12,"k":0.28},{"d":"WISDM","t":"Permuted","e":14,"k":0.31},{"d":"WISDM","t":"Permuted","e":16,"k":0.305},{"d":"WISDM","t":"Permuted","e":18,"k":0.325},{"d":"WISDM","t":"Permuted","e":20,"k":0.333},{"d":"WISDM","t":"Permuted","e":22,"k":0.325},{"d":"WISDM","t":"Permuted","e":24,"k":0.338},{"d":"WISDM","t":"Permuted","e":26,"k":0.32},{"d":"WISDM","t":"Permuted","e":28,"k":0.333},{"d":"WISDM","t":"Permuted","e":30,"k":0.33},
      {"d":"WISDM","t":"Time Warped","e":2,"k":0.657},{"d":"WISDM","t":"Time Warped","e":4,"k":0.695},{"d":"WISDM","t":"Time Warped","e":6,"k":0.71},{"d":"WISDM","t":"Time Warped","e":8,"k":0.66},{"d":"WISDM","t":"Time Warped","e":10,"k":0.67},{"d":"WISDM","t":"Time Warped","e":12,"k":0.665},{"d":"WISDM","t":"Time Warped","e":14,"k":0.695},{"d":"WISDM","t":"Time Warped","e":16,"k":0.705},{"d":"WISDM","t":"Time Warped","e":18,"k":0.755},{"d":"WISDM","t":"Time Warped","e":20,"k":0.72},{"d":"WISDM","t":"Time Warped","e":22,"k":0.615},{"d":"WISDM","t":"Time Warped","e":24,"k":0.715},{"d":"WISDM","t":"Time Warped","e":26,"k":0.67},{"d":"WISDM","t":"Time Warped","e":28,"k":0.755},{"d":"WISDM","t":"Time Warped","e":30,"k":0.655},
      {"d":"WISDM","t":"Negation","e":2,"k":0.957},{"d":"WISDM","t":"Negation","e":4,"k":0.957},{"d":"WISDM","t":"Negation","e":6,"k":0.972},{"d":"WISDM","t":"Negation","e":8,"k":0.975},{"d":"WISDM","t":"Negation","e":10,"k":0.993},{"d":"WISDM","t":"Negation","e":12,"k":0.985},{"d":"WISDM","t":"Negation","e":14,"k":0.99},{"d":"WISDM","t":"Negation","e":16,"k":0.993},{"d":"WISDM","t":"Negation","e":18,"k":0.995},{"d":"WISDM","t":"Negation","e":20,"k":0.985},{"d":"WISDM","t":"Negation","e":22,"k":0.985},{"d":"WISDM","t":"Negation","e":24,"k":0.983},{"d":"WISDM","t":"Negation","e":26,"k":0.982},{"d":"WISDM","t":"Negation","e":28,"k":0.982},{"d":"WISDM","t":"Negation","e":30,"k":0.985},
      {"d":"WISDM","t":"Horizontal Flipped","e":2,"k":0.685},{"d":"WISDM","t":"Horizontal Flipped","e":4,"k":0.69},{"d":"WISDM","t":"Horizontal Flipped","e":6,"k":0.728},{"d":"WISDM","t":"Horizontal Flipped","e":8,"k":0.712},{"d":"WISDM","t":"Horizontal Flipped","e":10,"k":0.675},{"d":"WISDM","t":"Horizontal Flipped","e":12,"k":0.728},{"d":"WISDM","t":"Horizontal Flipped","e":14,"k":0.7},{"d":"WISDM","t":"Horizontal Flipped","e":16,"k":0.74},{"d":"WISDM","t":"Horizontal Flipped","e":18,"k":0.71},{"d":"WISDM","t":"Horizontal Flipped","e":20,"k":0.74},{"d":"WISDM","t":"Horizontal Flipped","e":22,"k":0.683},{"d":"WISDM","t":"Horizontal Flipped","e":24,"k":0.72},{"d":"WISDM","t":"Horizontal Flipped","e":26,"k":0.72},{"d":"WISDM","t":"Horizontal Flipped","e":28,"k":0.757},{"d":"WISDM","t":"Horizontal Flipped","e":30,"k":0.615},
      {"d":"WISDM","t":"Channel Shuffled","e":2,"k":0.63},{"d":"WISDM","t":"Channel Shuffled","e":4,"k":0.66},{"d":"WISDM","t":"Channel Shuffled","e":6,"k":0.68},{"d":"WISDM","t":"Channel Shuffled","e":8,"k":0.61},{"d":"WISDM","t":"Channel Shuffled","e":10,"k":0.67},{"d":"WISDM","t":"Channel Shuffled","e":12,"k":0.68},{"d":"WISDM","t":"Channel Shuffled","e":14,"k":0.62},{"d":"WISDM","t":"Channel Shuffled","e":16,"k":0.69},{"d":"WISDM","t":"Channel Shuffled","e":18,"k":0.69},{"d":"WISDM","t":"Channel Shuffled","e":20,"k":0.645},{"d":"WISDM","t":"Channel Shuffled","e":22,"k":0.67},{"d":"WISDM","t":"Channel Shuffled","e":24,"k":0.665},{"d":"WISDM","t":"Channel Shuffled","e":26,"k":0.69},{"d":"WISDM","t":"Channel Shuffled","e":28,"k":0.683},{"d":"WISDM","t":"Channel Shuffled","e":30,"k":0.55},
      {"d":"WISDM","t":"Average","e":2,"k":0.504},{"d":"WISDM","t":"Average","e":4,"k":0.54},{"d":"WISDM","t":"Average","e":6,"k":0.565},{"d":"WISDM","t":"Average","e":8,"k":0.548},{"d":"WISDM","t":"Average","e":10,"k":0.572},{"d":"WISDM","t":"Average","e":12,"k":0.578},{"d":"WISDM","t":"Average","e":14,"k":0.55},{"d":"WISDM","t":"Average","e":16,"k":0.59},{"d":"WISDM","t":"Average","e":18,"k":0.597},{"d":"WISDM","t":"Average","e":20,"k":0.585},{"d":"WISDM","t":"Average","e":22,"k":0.565},{"d":"WISDM","t":"Average","e":24,"k":0.585},{"d":"WISDM","t":"Average","e":26,"k":0.585},{"d":"WISDM","t":"Average","e":28,"k":0.6},{"d":"WISDM","t":"Average","e":30,"k":0.545},

      {"d":"MotionSense","t":"Jittered","e":2,"k":0.06},{"d":"MotionSense","t":"Jittered","e":4,"k":0.118},{"d":"MotionSense","t":"Jittered","e":6,"k":0.045},{"d":"MotionSense","t":"Jittered","e":8,"k":0.127},{"d":"MotionSense","t":"Jittered","e":10,"k":0.127},{"d":"MotionSense","t":"Jittered","e":12,"k":0.27},{"d":"MotionSense","t":"Jittered","e":14,"k":0.41},{"d":"MotionSense","t":"Jittered","e":16,"k":0.425},{"d":"MotionSense","t":"Jittered","e":18,"k":0.432},{"d":"MotionSense","t":"Jittered","e":20,"k":0.435},{"d":"MotionSense","t":"Jittered","e":22,"k":0.443},{"d":"MotionSense","t":"Jittered","e":24,"k":0.457},{"d":"MotionSense","t":"Jittered","e":26,"k":0.45},{"d":"MotionSense","t":"Jittered","e":28,"k":0.45},{"d":"MotionSense","t":"Jittered","e":30,"k":0.452},
      {"d":"MotionSense","t":"Scaled","e":2,"k":0.531},{"d":"MotionSense","t":"Scaled","e":4,"k":0.611},{"d":"MotionSense","t":"Scaled","e":6,"k":0.66},{"d":"MotionSense","t":"Scaled","e":8,"k":0.633},{"d":"MotionSense","t":"Scaled","e":10,"k":0.68},{"d":"MotionSense","t":"Scaled","e":12,"k":0.722},{"d":"MotionSense","t":"Scaled","e":14,"k":0.728},{"d":"MotionSense","t":"Scaled","e":16,"k":0.733},{"d":"MotionSense","t":"Scaled","e":18,"k":0.757},{"d":"MotionSense","t":"Scaled","e":20,"k":0.763},{"d":"MotionSense","t":"Scaled","e":22,"k":0.772},{"d":"MotionSense","t":"Scaled","e":24,"k":0.782},{"d":"MotionSense","t":"Scaled","e":26,"k":0.782},{"d":"MotionSense","t":"Scaled","e":28,"k":0.78},{"d":"MotionSense","t":"Scaled","e":30,"k":0.772},
      {"d":"MotionSense","t":"Rotated","e":2,"k":0.731},{"d":"MotionSense","t":"Rotated","e":4,"k":0.755},{"d":"MotionSense","t":"Rotated","e":6,"k":0.777},{"d":"MotionSense","t":"Rotated","e":8,"k":0.75},{"d":"MotionSense","t":"Rotated","e":10,"k":0.75},{"d":"MotionSense","t":"Rotated","e":12,"k":0.755},{"d":"MotionSense","t":"Rotated","e":14,"k":0.755},{"d":"MotionSense","t":"Rotated","e":16,"k":0.735},{"d":"MotionSense","t":"Rotated","e":18,"k":0.728},{"d":"MotionSense","t":"Rotated","e":20,"k":0.733},{"d":"MotionSense","t":"Rotated","e":22,"k":0.75},{"d":"MotionSense","t":"Rotated","e":24,"k":0.757},{"d":"MotionSense","t":"Rotated","e":26,"k":0.755},{"d":"MotionSense","t":"Rotated","e":28,"k":0.725},{"d":"MotionSense","t":"Rotated","e":30,"k":0.745},
      {"d":"MotionSense","t":"Permuted","e":2,"k":0.135},{"d":"MotionSense","t":"Permuted","e":4,"k":0.17},{"d":"MotionSense","t":"Permuted","e":6,"k":0.205},{"d":"MotionSense","t":"Permuted","e":8,"k":0.23},{"d":"MotionSense","t":"Permuted","e":10,"k":0.245},{"d":"MotionSense","t":"Permuted","e":12,"k":0.29},{"d":"MotionSense","t":"Permuted","e":14,"k":0.288},{"d":"MotionSense","t":"Permuted","e":16,"k":0.302},{"d":"MotionSense","t":"Permuted","e":18,"k":0.315},{"d":"MotionSense","t":"Permuted","e":20,"k":0.318},{"d":"MotionSense","t":"Permuted","e":22,"k":0.325},{"d":"MotionSense","t":"Permuted","e":24,"k":0.345},{"d":"MotionSense","t":"Permuted","e":26,"k":0.34},{"d":"MotionSense","t":"Permuted","e":28,"k":0.32},{"d":"MotionSense","t":"Permuted","e":30,"k":0.358},
      {"d":"MotionSense","t":"Time Warped","e":2,"k":0.365},{"d":"MotionSense","t":"Time Warped","e":4,"k":0.415},{"d":"MotionSense","t":"Time Warped","e":6,"k":0.39},{"d":"MotionSense","t":"Time Warped","e":8,"k":0.39},{"d":"MotionSense","t":"Time Warped","e":10,"k":0.415},{"d":"MotionSense","t":"Time Warped","e":12,"k":0.465},{"d":"MotionSense","t":"Time Warped","e":14,"k":0.465},{"d":"MotionSense","t":"Time Warped","e":16,"k":0.47},{"d":"MotionSense","t":"Time Warped","e":18,"k":0.478},{"d":"MotionSense","t":"Time Warped","e":20,"k":0.478},{"d":"MotionSense","t":"Time Warped","e":22,"k":0.478},{"d":"MotionSense","t":"Time Warped","e":24,"k":0.49},{"d":"MotionSense","t":"Time Warped","e":26,"k":0.483},{"d":"MotionSense","t":"Time Warped","e":28,"k":0.49},{"d":"MotionSense","t":"Time Warped","e":30,"k":0.48},
      {"d":"MotionSense","t":"Negation","e":2,"k":1},{"d":"MotionSense","t":"Negation","e":4,"k":1},{"d":"MotionSense","t":"Negation","e":6,"k":1},{"d":"MotionSense","t":"Negation","e":8,"k":1},{"d":"MotionSense","t":"Negation","e":10,"k":1},{"d":"MotionSense","t":"Negation","e":12,"k":1},{"d":"MotionSense","t":"Negation","e":14,"k":1},{"d":"MotionSense","t":"Negation","e":16,"k":1},{"d":"MotionSense","t":"Negation","e":18,"k":1},{"d":"MotionSense","t":"Negation","e":20,"k":1},{"d":"MotionSense","t":"Negation","e":22,"k":1},{"d":"MotionSense","t":"Negation","e":24,"k":1},{"d":"MotionSense","t":"Negation","e":26,"k":1},{"d":"MotionSense","t":"Negation","e":28,"k":1},{"d":"MotionSense","t":"Negation","e":30,"k":1},
      {"d":"MotionSense","t":"Horizontal Flipped","e":2,"k":0.347},{"d":"MotionSense","t":"Horizontal Flipped","e":4,"k":0.37},{"d":"MotionSense","t":"Horizontal Flipped","e":6,"k":0.387},{"d":"MotionSense","t":"Horizontal Flipped","e":8,"k":0.4},{"d":"MotionSense","t":"Horizontal Flipped","e":10,"k":0.405},{"d":"MotionSense","t":"Horizontal Flipped","e":12,"k":0.415},{"d":"MotionSense","t":"Horizontal Flipped","e":14,"k":0.42},{"d":"MotionSense","t":"Horizontal Flipped","e":16,"k":0.43},{"d":"MotionSense","t":"Horizontal Flipped","e":18,"k":0.43},{"d":"MotionSense","t":"Horizontal Flipped","e":20,"k":0.43},{"d":"MotionSense","t":"Horizontal Flipped","e":22,"k":0.44},{"d":"MotionSense","t":"Horizontal Flipped","e":24,"k":0.425},{"d":"MotionSense","t":"Horizontal Flipped","e":26,"k":0.45},{"d":"MotionSense","t":"Horizontal Flipped","e":28,"k":0.435},{"d":"MotionSense","t":"Horizontal Flipped","e":30,"k":0.437},
      {"d":"MotionSense","t":"Channel Shuffled","e":2,"k":0.652},{"d":"MotionSense","t":"Channel Shuffled","e":4,"k":0.685},{"d":"MotionSense","t":"Channel Shuffled","e":6,"k":0.69},{"d":"MotionSense","t":"Channel Shuffled","e":8,"k":0.693},{"d":"MotionSense","t":"Channel Shuffled","e":10,"k":0.715},{"d":"MotionSense","t":"Channel Shuffled","e":12,"k":0.708},{"d":"MotionSense","t":"Channel Shuffled","e":14,"k":0.685},{"d":"MotionSense","t":"Channel Shuffled","e":16,"k":0.72},{"d":"MotionSense","t":"Channel Shuffled","e":18,"k":0.693},{"d":"MotionSense","t":"Channel Shuffled","e":20,"k":0.7},{"d":"MotionSense","t":"Channel Shuffled","e":22,"k":0.695},{"d":"MotionSense","t":"Channel Shuffled","e":24,"k":0.698},{"d":"MotionSense","t":"Channel Shuffled","e":26,"k":0.723},{"d":"MotionSense","t":"Channel Shuffled","e":28,"k":0.727},{"d":"MotionSense","t":"Channel Shuffled","e":30,"k":0.717},
      {"d":"MotionSense","t":"Average","e":2,"k":0.478},{"d":"MotionSense","t":"Average","e":4,"k":0.515},{"d":"MotionSense","t":"Average","e":6,"k":0.518},{"d":"MotionSense","t":"Average","e":8,"k":0.525},{"d":"MotionSense","t":"Average","e":10,"k":0.54},{"d":"MotionSense","t":"Average","e":12,"k":0.58},{"d":"MotionSense","t":"Average","e":14,"k":0.595},{"d":"MotionSense","t":"Average","e":16,"k":0.603},{"d":"MotionSense","t":"Average","e":18,"k":0.605},{"d":"MotionSense","t":"Average","e":20,"k":0.608},{"d":"MotionSense","t":"Average","e":22,"k":0.615},{"d":"MotionSense","t":"Average","e":24,"k":0.62},{"d":"MotionSense","t":"Average","e":26,"k":0.622},{"d":"MotionSense","t":"Average","e":28,"k":0.618},{"d":"MotionSense","t":"Average","e":30,"k":0.62}
    ]
  },
  "facet": {
    "field": "d",
    "type": "nominal",
    "sort": ["HHAR", "UniMiB", "UCI HAR", "MobiAct", "WISDM", "MotionSense"],
    "header": {
      "title": null,
      "labelFont": "Open Sans",
      "labelFontSize": 11,
      "labelColor": "#222222",
      "labelPadding": 4
    }
  },
  "columns": 3,
  "spacing": {"row": 20, "column": 17},
  "resolve": {
    "scale": {"y": "independent"},
    "axis": {"x": "independent", "y": "independent"}
  },
  "spec": {
    "width": 229,
    "height": 197,
    "mark": {"type": "line", "strokeWidth": 3, "strokeJoin": "round", "strokeCap": "butt"},
    "encoding": {
      "x": {
        "field": "e",
        "type": "quantitative",
        "title": "Epochs",
        "scale": {"domain": [0.6, 31.4], "nice": false},
        "axis": {"values": [5, 10, 15, 20, 25, 30]}
      },
      "y": {
        "field": "k",
        "type": "quantitative",
        "title": "Kappa",
        "scale": {"zero": false, "nice": false, "padding": 9},
        "axis": {"format": ".1f"}
      },
      "color": {
        "field": "t",
        "type": "nominal",
        "scale": {
          "domain": ["Jittered", "Permuted", "Horizontal Flipped", "Scaled", "Time Warped", "Channel Shuffled", "Rotated", "Negation", "Average"],
          "range": ["#aad4b4", "#c9bcb0", "#e6dcba", "#e2a7a9", "#edc5e1", "#b2dae6", "#c0b9d9", "#c8c8c8", "#4c72b0"]
        },
        "legend": {"title": null, "orient": "bottom", "columns": 3}
      },
      "strokeDash": {
        "field": "t",
        "type": "nominal",
        "scale": {
          "domain": ["Jittered", "Permuted", "Horizontal Flipped", "Scaled", "Time Warped", "Channel Shuffled", "Rotated", "Negation", "Average"],
          "range": [[1, 0], [1, 0], [1, 0], [1, 0], [1, 0], [1, 0], [1, 0], [1, 0], [11, 5]]
        },
        "legend": {"title": null, "orient": "bottom", "columns": 3}
      }
    }
  },
  "config": {
    "background": "white",
    "view": {"stroke": "#cdcdcd", "strokeWidth": 2.7},
    "axis": {
      "grid": true,
      "gridColor": "#dddddd",
      "gridWidth": 1,
      "domain": false,
      "ticks": false,
      "labelFont": "Open Sans",
      "labelFontSize": 10,
      "labelColor": "#222222",
      "labelPadding": 3,
      "titleFont": "Open Sans",
      "titleFontSize": 13,
      "titleFontWeight": "normal",
      "titleColor": "#222222",
      "titlePadding": 2
    },
    "axisX": {"labelPadding": 2, "titlePadding": 5},
    "legend": {
      "labelFont": "Open Sans",
      "labelFontSize": 11.5,
      "labelColor": "#222222",
      "symbolType": "M-1,0H3",
      "symbolStrokeWidth": 3,
      "symbolSize": 169,
      "labelOffset": 20,
      "columnPadding": 12,
      "rowPadding": 3,
      "padding": 3,
      "strokeColor": "#dddddd",
      "cornerRadius": 3,
      "fillColor": "white",
      "offset": 25,
      "layout": {"bottom": {"anchor": "middle"}}
    }
  }
}
